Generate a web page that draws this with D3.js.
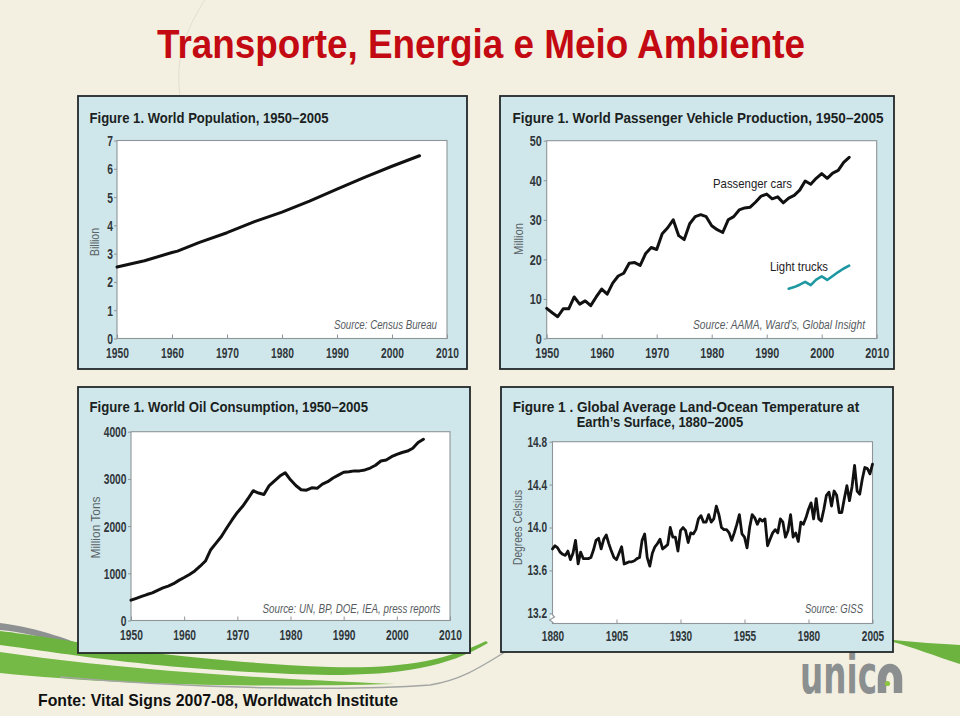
<!DOCTYPE html>
<html><head><meta charset="utf-8">
<script src="https://cdn.jsdelivr.net/npm/d3@7"></script>
<style>html,body{margin:0;padding:0;background:#f3f0e2;} svg{display:block;}</style>
</head><body>
<svg id="c" width="960" height="716"></svg>
<script>
// ---------------- DATA ----------------
const popYears   = [1950,1955,1960,1961,1965,1970,1975,1980,1985,1990,1995,2000,2005];
const popBillion = [2.53,2.75,3.04,3.09,3.40,3.74,4.13,4.47,4.86,5.28,5.70,6.09,6.46];
const popYTicks  = [0,1,2,3,4,5,6,7];
const decadeTicks = [1950,1960,1970,1980,1990,2000,2010];

const carStartYear = 1950;
const carsMillion = [7.6,6.5,5.5,7.5,7.5,10.5,8.7,9.5,8.3,10.5,
  12.5,11.2,14,15.8,16.5,19,19.2,18.5,21.5,23,
  22.5,26.5,28,30,26,25,29,30.8,31.3,30.8,
  28.5,27.5,26.8,30,30.8,32.5,33,33.2,34.5,36,
  36.5,35.3,35.8,34.3,35.5,36.2,37.5,39.8,39,40.5,
  41.7,40.5,41.8,42.5,44.5,45.8];
const truckStartYear = 1994;
const trucksMillion = [12.6,13.0,13.6,14.3,13.5,14.9,15.7,14.8,15.8,16.8,17.7,18.4];
const carYTicks = [0,10,20,30,40,50];

const oilStartYear = 1950;
const oilMillionTons = [430,470,510,550,585,640,690,730,780,850,
  910,975,1050,1150,1260,1500,1640,1780,1960,2130,
  2290,2420,2580,2750,2700,2670,2860,2960,3060,3130,
  2980,2860,2770,2760,2810,2800,2890,2940,3020,3080,
  3140,3150,3170,3170,3190,3230,3290,3380,3400,3470,
  3520,3560,3590,3650,3770,3840];
const oilYTicks = [0,1000,2000,3000,4000];

const tempStartYear = 1880;
const tempCelsius = [13.80,13.83,13.81,13.77,13.75,13.74,13.78,13.70,13.76,13.88,
  13.66,13.77,13.71,13.71,13.71,13.72,13.79,13.88,13.90,13.80,
  13.89,13.93,13.85,13.78,13.72,13.70,13.76,13.82,13.66,13.67,
  13.68,13.68,13.69,13.71,13.72,13.88,13.94,13.72,13.64,13.76,
  13.82,13.85,13.89,13.80,13.82,13.84,14.00,13.91,13.91,13.78,
  13.97,14.00,13.97,13.86,13.95,13.94,13.98,14.08,14.11,14.05,
  14.05,14.12,14.05,14.08,14.20,14.12,14.00,13.98,13.98,13.95,
  13.88,13.95,14.03,14.12,13.94,13.91,13.81,14.00,14.12,14.09,
  14.03,14.08,14.06,14.08,13.83,13.89,13.95,13.98,13.95,14.08,
  14.05,13.91,13.97,14.12,13.91,13.95,13.87,14.05,14.03,14.09,
  14.17,14.23,14.08,14.27,14.08,14.06,14.17,14.30,14.33,14.20,
  14.34,14.30,14.14,14.14,14.27,14.39,14.25,14.38,14.58,14.34,
  14.31,14.45,14.56,14.55,14.50,14.59];
const tempYTicks = [13.2,13.6,14.0,14.4,14.8];
const tempXTicks = [1880,1905,1930,1955,1980,2005];

// ---------------- HELPERS ----------------
const svg = d3.select("#c");
const SANS = "'Liberation Sans',Arial,Helvetica,sans-serif";

function measure(str, size, weight) {
  const t = svg.append("text").attr("font-family", SANS).attr("font-size", size)
    .attr("font-weight", weight || "normal").text(str);
  const w = t.node().getComputedTextLength();
  t.remove();
  return w;
}
// squeeze labels so that a digit is `digitW` px wide
function squeezeDigits(sel, size, weight, digitW) {
  const f = digitW / (measure("0000000000", size, weight) / 10);
  sel.each(function () {
    const L = this.getComputedTextLength();
    d3.select(this).attr("textLength", L * f).attr("lengthAdjust", "spacingAndGlyphs");
  });
}
function fitText(g, str, x, y, w, o) {
  return g.append("text").attr("x", x).attr("y", y).text(str)
    .attr("font-family", o.family || SANS).attr("font-size", o.size)
    .attr("font-weight", o.weight || "normal").attr("font-style", o.style || "normal")
    .attr("fill", o.fill || "#1d2124")
    .attr("textLength", w).attr("lengthAdjust", "spacingAndGlyphs");
}
function vText(g, str, cx, cy, len, o) {
  return g.append("text").attr("transform", `translate(${cx + o.size*0.36},${cy + len/2}) rotate(-90)`)
    .text(str).attr("font-family", SANS).attr("font-size", o.size)
    .attr("fill", o.fill).attr("textLength", len).attr("lengthAdjust", "spacingAndGlyphs");
}

// ---------------- BACKGROUND DECORATION ----------------
const deco = svg.append("g");
deco.append("rect").attr("width", 960).attr("height", 716).attr("fill", "#f3f0e2");
deco.append("path").attr("fill", "none").attr("stroke", "#e2ded0").attr("stroke-width", 1)
  .attr("d", "M205,0 C185,30 175,60 180,95");
deco.append("path").attr("fill", "#8d9191")
  .attr("d", "M0,623 C40,628 70,640 100,652 L100,657 C70,646 40,634 0,630 Z");
deco.append("path").attr("fill", "#6cb33f")
  .attr("d", "M0,631 C70,639 160,660 330,667 C400,669 445,661 486,641 L488,643 C448,667 400,675 330,675 C160,671 70,654 0,645 Z");
deco.append("path").attr("fill", "#75ba46")
  .attr("d", "M0,652 C110,668 230,677 395,684 C230,688 110,684 0,673 Z");
deco.append("path").attr("fill", "none").attr("stroke", "#a3a6a3").attr("stroke-width", 1.4)
  .attr("d", "M60,677 C200,689 350,691 430,685 C462,680 482,666 505,652");
deco.append("path").attr("fill", "#6cb33f")
  .attr("d", "M893,640 C915,642 940,644 960,645 L960,664 C935,656 912,647 893,642 Z");

// ---------------- TITLE / FOOTER / LOGO ----------------
fitText(svg, "Transporte, Energia e Meio Ambiente", 157, 58, 648,
  { size: 40, weight: "bold", fill: "#c30a12" });
fitText(svg, "Fonte: Vital Signs 2007-08, Worldwatch Institute", 38, 706, 360,
  { size: 16.5, weight: "bold", fill: "#111" });
const logo = svg.append("g");
fitText(logo, "unic", 800, 693, 77, { family: "'DejaVu Sans',sans-serif", size: 54, weight: "bold", fill: "#8b8f8f" });
logo.append("path").attr("fill", "none").attr("stroke", "#8b8f8f").attr("stroke-width", 8.5)
  .attr("stroke-linecap", "butt")
  .attr("d", "M882,693 L882,679 A8,11 0 0 1 898,679 L898,693");
logo.append("circle").attr("cx", 887.5).attr("cy", 683.5).attr("r", 2.6).attr("fill", "#8cc63f");

// ---------------- PANELS ----------------
function panel(o) {
  const g = svg.append("g");
  g.append("rect").attr("x", o.box[0]).attr("y", o.box[1])
    .attr("width", o.box[2] - o.box[0]).attr("height", o.box[3] - o.box[1])
    .attr("fill", "#cfe7eb").attr("stroke", "#22272a").attr("stroke-width", 1.8);

  const x = d3.scaleLinear().domain(o.xDomain).range(o.xRange);
  const y = d3.scaleLinear().domain(o.yDomain).range(o.yRange);
  const top = y(o.yDomain[1]);
  const bottom = o.frameBottom != null ? o.frameBottom : y(o.yDomain[0]);

  g.append("rect").attr("x", o.xRange[0]).attr("y", top)
    .attr("width", o.xRange[1] - o.xRange[0]).attr("height", bottom - top)
    .attr("fill", "#fff").attr("stroke", "#8e9598").attr("stroke-width", 1.1);

  const tw = "bold";
  // y axis
  const ya = g.append("g").attr("transform", `translate(${o.xRange[0]},0)`)
    .call(d3.axisLeft(y).tickValues(o.yTicks).tickSize(3).tickPadding(o.yPad)
      .tickFormat(o.yFmt || (d => d)));
  ya.select(".domain").remove();
  ya.selectAll("line").attr("stroke", "#8e9598");
  ya.selectAll("text").attr("font-family", SANS).attr("font-size", o.tickSize).attr("font-weight", tw)
    .attr("fill", "#30363a").call(squeezeDigits, o.tickSize, tw, o.digitW);

  // x axis
  const xa = g.append("g").attr("transform", `translate(0,${bottom})`)
    .call(d3.axisBottom(x).tickValues(o.xTicks).tickSizeInner(-4).tickSizeOuter(0)
      .tickFormat(d3.format("d")));
  xa.select(".domain").remove();
  xa.selectAll("line").attr("stroke", "#8e9598");
  xa.selectAll("text").attr("y", o.xLabelBase - bottom).attr("dy", null)
    .attr("font-family", SANS).attr("font-size", o.tickSize).attr("font-weight", tw)
    .attr("fill", "#30363a").call(squeezeDigits, o.tickSize, tw, o.digitW);

  o.titles.forEach(t => fitText(g, t.text, t.x, t.y, t.w, { size: 15.5, weight: "bold", fill: "#1b1f22" }));
  vText(g, o.yTitle.text, o.yTitle.cx, o.yTitle.cy, o.yTitle.len, { size: 12.5, fill: "#5a6367" });
  fitText(g, o.source.text, o.source.x, o.source.y, o.source.w,
    { size: 12.5, style: "italic", fill: "#555b5e" });

  if (o.brk) {
    const bx = o.xRange[0];
    g.append("rect").attr("x", bx - 2).attr("y", o.brk[0]).attr("width", 4)
      .attr("height", o.brk[1] - o.brk[0]).attr("fill", "#fff");
    g.append("path").attr("fill", "none").attr("stroke", "#8e9598").attr("stroke-width", 1.1)
      .attr("d", `M${bx},${o.brk[0]} L${bx+2},${o.brk[0]+2} L${bx-3},${o.brk[1]-2} L${bx},${o.brk[1]}`);
  }

  const line = d3.line().x(d => x(d[0])).y(d => y(d[1]));
  o.series.forEach(s => {
    g.append("path").datum(s.pts).attr("fill", "none").attr("stroke", s.color)
      .attr("stroke-width", s.width).attr("stroke-linejoin", "round").attr("stroke-linecap", "round")
      .attr("d", line);
  });
  (o.labels || []).forEach(l => fitText(g, l.text, l.x, l.y, l.w, { size: 13.5, fill: "#1d2124" }));
}

const byIndex = (start, vals) => vals.map((v, i) => [start + i, v]);

panel({
  box: [78, 96, 467, 369],
  xDomain: [1950, 2010], xRange: [117, 447],
  yDomain: [0, 7], yRange: [338.5, 140.5],
  yTicks: popYTicks, xTicks: decadeTicks, yPad: 1, xLabelBase: 358,
  tickSize: 15.5, digitW: 5.7,
  titles: [{ text: "Figure 1. World Population, 1950–2005", x: 89.5, y: 123, w: 239 }],
  yTitle: { text: "Billion", cx: 94, cy: 242, len: 28 },
  source: { text: "Source: Census Bureau", x: 334, y: 328.5, w: 103 },
  series: [{ pts: popYears.map((yr, i) => [yr, popBillion[i]]), color: "#111", width: 3 }]
});

panel({
  box: [500, 96, 894, 369],
  xDomain: [1950, 2010], xRange: [546.7, 876.7],
  yDomain: [0, 50], yRange: [338.5, 140.7],
  yTicks: carYTicks, xTicks: decadeTicks, yPad: 2, xLabelBase: 358,
  tickSize: 15.5, digitW: 6,
  titles: [{ text: "Figure 1. World Passenger Vehicle Production, 1950–2005", x: 512.5, y: 122.5, w: 371 }],
  yTitle: { text: "Million", cx: 518, cy: 239, len: 32 },
  source: { text: "Source: AAMA, Ward’s, Global Insight", x: 693, y: 328.5, w: 172 },
  series: [
    { pts: byIndex(carStartYear, carsMillion), color: "#111", width: 3 },
    { pts: byIndex(truckStartYear, trucksMillion), color: "#1d98a2", width: 2.6 }
  ],
  labels: [
    { text: "Passenger cars", x: 713, y: 187.5, w: 79 },
    { text: "Light trucks", x: 770, y: 271, w: 58 }
  ]
});

panel({
  box: [78, 387, 470, 653],
  xDomain: [1950, 2010], xRange: [131, 450],
  yDomain: [0, 4000], yRange: [620.5, 431.7],
  yTicks: oilYTicks, xTicks: decadeTicks, yPad: 1.5, xLabelBase: 640,
  tickSize: 15.5, digitW: 5.7,
  titles: [{ text: "Figure 1. World Oil Consumption, 1950–2005", x: 89.5, y: 412.3, w: 278.5 }],
  yTitle: { text: "Million Tons", cx: 95, cy: 527.5, len: 62 },
  source: { text: "Source: UN, BP, DOE, IEA, press reports", x: 262.5, y: 613, w: 178 },
  series: [{ pts: byIndex(oilStartYear, oilMillionTons), color: "#111", width: 3 }]
});

panel({
  box: [501, 387, 893, 652],
  xDomain: [1880, 2005], xRange: [552.5, 872.5],
  yDomain: [13.2, 14.8], yRange: [613.3, 441.7], frameBottom: 623.5,
  yTicks: tempYTicks, xTicks: tempXTicks, yPad: 2.5, xLabelBase: 641,
  yFmt: d3.format(".1f"),
  tickSize: 14, digitW: 5.6,
  titles: [
    { text: "Figure 1 . Global Average Land-Ocean Temperature at", x: 512.7, y: 412.3, w: 346.5 },
    { text: "Earth’s Surface, 1880–2005", x: 576.7, y: 427, w: 166.5 }
  ],
  yTitle: { text: "Degrees Celsius", cx: 517, cy: 527.5, len: 75 },
  source: { text: "Source: GISS", x: 805, y: 613, w: 58 },
  brk: [615, 622],
  series: [{ pts: byIndex(tempStartYear, tempCelsius), color: "#111", width: 2.8 }]
});
</script>
</body></html>
